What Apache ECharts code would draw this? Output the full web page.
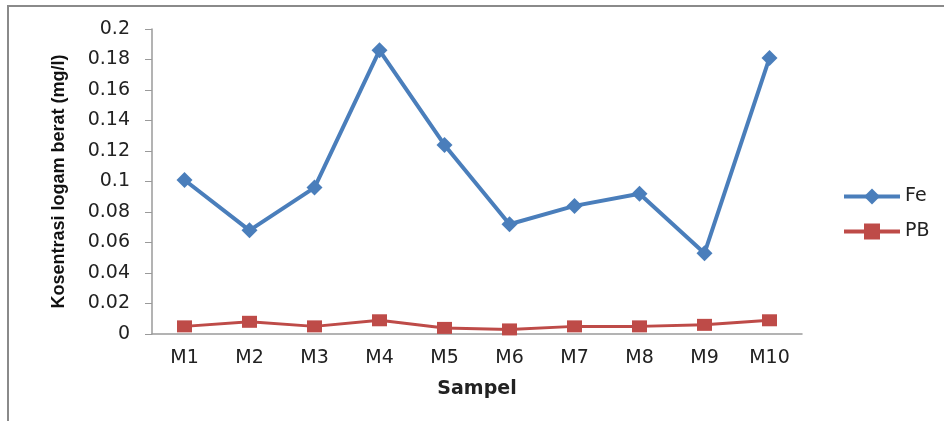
<!DOCTYPE html>
<html>
<head>
<meta charset="utf-8">
<script src="https://cdn.jsdelivr.net/npm/echarts@6/dist/echarts.min.js"></script>
<style>html,body{margin:0;padding:0;background:#fff;}#c{width:944px;height:421px;}</style>
</head>
<body>
<div id="c"></div>
<script>
const categories = ['M1','M2','M3','M4','M5','M6','M7','M8','M9','M10'];
const feValues = [0.101, 0.068, 0.096, 0.186, 0.124, 0.072, 0.084, 0.092, 0.053, 0.181];
const pbValues = [0.005, 0.008, 0.005, 0.009, 0.004, 0.003, 0.005, 0.005, 0.006, 0.009];
const yTicks = { min: 0, max: 0.2, interval: 0.02 };

const chart = echarts.init(document.getElementById('c'), null, {renderer: 'canvas'});
const tickFont = 'DejaVu Sans, Verdana, sans-serif';
chart.setOption({
  animation: false,
  backgroundColor: '#fff',
  graphic: [{
    type: 'rect', shape: {x: 8, y: 6, width: 1200, height: 1200},
    style: {fill: 'none', stroke: '#8a8a8a', lineWidth: 2}, silent: true, z: -1
  }],
  grid: {left: 152, right: 142, top: 29, bottom: 87},
  legend: {
    orient: 'vertical', left: 837, top: 182, itemWidth: 56, itemHeight: 20, itemGap: 16,
    lineStyle: {width: 4},
    textStyle: {fontFamily: tickFont, fontSize: 19, color: '#222'},
    data: ['Fe', 'PB']
  },
  xAxis: {
    type: 'category', data: categories, boundaryGap: true,
    name: 'Sampel', nameLocation: 'middle', nameGap: 46,
    nameTextStyle: {fontFamily: 'DejaVu Sans, sans-serif', fontWeight: 'bold', fontSize: 19, color: '#222'},
    axisLine: {lineStyle: {color: '#9a9a9a', width: 1.5}},
    axisTick: {show: false},
    axisLabel: {fontFamily: tickFont, fontSize: 19, color: '#222', margin: 15},
  },
  yAxis: {
    type: 'value', min: yTicks.min, max: yTicks.max, interval: yTicks.interval,
    name: 'Kosentrasi logam berat (mg/l)', nameLocation: 'middle', nameGap: 84,
    nameTextStyle: {fontFamily: '"Liberation Sans Narrow", "Liberation Sans", sans-serif', fontWeight: 'bold', fontSize: 18, color: '#111'},
    axisLine: {show: true, lineStyle: {color: '#9a9a9a', width: 1.5}},
    axisTick: {show: true, inside: false, length: 7, lineStyle: {color: '#9a9a9a'}},
    splitLine: {show: false},
    axisLabel: {fontFamily: tickFont, fontSize: 19, color: '#222', margin: 22,
      formatter: v => String(Number(v.toFixed(2)))}
  },
  series: [
    {name: 'Fe', type: 'line', data: feValues, symbol: 'diamond', symbolSize: 16,
     lineStyle: {color: '#4A7EBB', width: 4}, itemStyle: {color: '#4A7EBB'}},
    {name: 'PB', type: 'line', data: pbValues, symbol: 'rect', symbolSize: [15, 12],
     lineStyle: {color: '#BE4B48', width: 3}, itemStyle: {color: '#BE4B48'}}
  ]
});
</script>
</body>
</html>
